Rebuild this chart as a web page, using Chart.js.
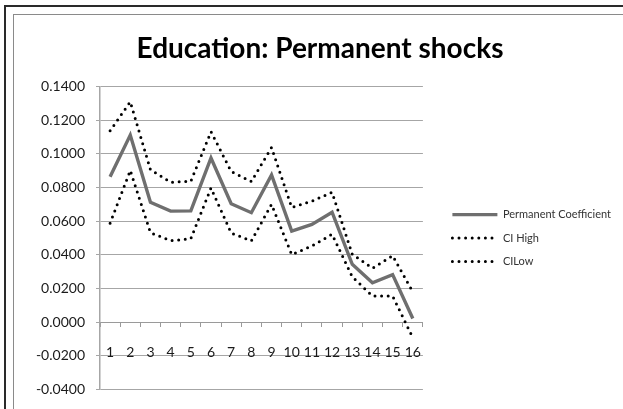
<!DOCTYPE html>
<html>
<head>
<meta charset="utf-8">
<script src="https://cdn.jsdelivr.net/npm/chart.js@4.4.1/dist/chart.umd.min.js"></script>
<style>
  body { margin: 0; background: #fff; }
  #marco { position: relative; width: 623px; height: 409px; overflow: hidden; }
  #borde1 { position: absolute; left: 4px; top: 5px; right: -10px; bottom: -10px; border-left: 2px solid #2a2a2a; border-top: 2px solid #2a2a2a; }
  #borde2 { position: absolute; left: 13px; top: 14px; right: -10px; bottom: -10px; border-left: 1px solid #8a8a8a; border-top: 1px solid #8a8a8a; }
  canvas { position: absolute; left: 0; top: 0; }
</style>
</head>
<body>
<div id="marco">
  <div id="borde1"></div>
  <div id="borde2"></div>
  <canvas id="myChart" width="623" height="409"></canvas>
</div>
<script>
// datos
let categorias = ["1", "2", "3", "4", "5", "6", "7", "8", "9", "10", "11", "12", "13", "14", "15", "16"];
let coefPermanente = [0.0865, 0.1112, 0.0713, 0.0660, 0.0662, 0.0976, 0.0704, 0.0651, 0.0875, 0.0542, 0.0581, 0.0654, 0.0344, 0.0235, 0.0283, 0.0022];
let ciHigh = [0.1137, 0.1310, 0.0906, 0.0832, 0.0837, 0.1132, 0.0896, 0.0836, 0.1038, 0.0682, 0.0719, 0.0772, 0.0404, 0.0321, 0.0396, 0.0180];
let ciLow = [0.0588, 0.0902, 0.0532, 0.0485, 0.0496, 0.0798, 0.0530, 0.0484, 0.0700, 0.0402, 0.0453, 0.0523, 0.0270, 0.0156, 0.0156, -0.0092];
let nombres = ["Permanent Coefficient", "CI High", "CILow"];
let yMin = -0.04, yMax = 0.14, yPaso = 0.02;

let canva = document.getElementById('myChart').getContext("2d");

// el titulo va centrado sobre todo el marco
const moverTitulo = {
  id: 'moverTitulo',
  afterLayout(chart) {
    chart.titleBlock.left = 17;
    chart.titleBlock.right = 623;
  }
};

const punteada = {
  fill: false,
  tension: 0,
  borderColor: "#000",
  borderWidth: 3,
  borderDash: [0, 6.6],
  borderCapStyle: "round",
  pointRadius: 0,
  pointStyle: "line"
};

// la leyenda usa el trazo de la serie (punteado incluido)
const etiquetasLeyenda = (chart) => {
  let items = Chart.defaults.plugins.legend.labels.generateLabels(chart);
  items.forEach((it) => {
    let ds = chart.data.datasets[it.datasetIndex];
    it.strokeStyle = ds.borderColor;
    it.lineWidth = ds.borderWidth;
    it.lineDash = ds.borderDash || [];
    it.lineCap = ds.borderCapStyle || "butt";
  });
  return items;
};

new Chart(canva, {
  type: "line",
  data: {
    labels: categorias,
    datasets: [
      {
        label: nombres[0],
        data: coefPermanente,
        fill: false,
        tension: 0,
        borderColor: "#6f6f6f",
        backgroundColor: "#6f6f6f",
        borderWidth: 3.4,
        borderJoinStyle: "miter",
        pointRadius: 0,
        pointStyle: "line"
      },
      Object.assign({ label: nombres[1], data: ciHigh }, punteada),
      Object.assign({ label: nombres[2], data: ciLow }, punteada)
    ]
  },
  options: {
    responsive: false,
    animation: false,
    layout: { padding: { left: 12, right: 2, top: 0, bottom: 18 } },
    font: { family: "Lato" },
    plugins: {
      title: {
        display: true,
        text: "Education: Permanent shocks",
        color: "#000",
        font: { family: "Lato", size: 28, weight: "bold" },
        padding: { top: 32, bottom: 21 }
      },
      legend: {
        position: "right",
        fullSize: false,
        maxWidth: 260,
        labels: {
          usePointStyle: true,
          pointStyleWidth: 45,
          boxHeight: 11,
          padding: 12.5,
          color: "#333",
          font: { family: "Lato", size: 11 },
          generateLabels: etiquetasLeyenda
        }
      },
      tooltip: { enabled: false }
    },
    scales: {
      x: {
        position: { y: 0 },
        offset: true,
        grid: { display: true, drawOnChartArea: false, drawTicks: true, tickLength: 4, offset: true, color: "#9a9a9a" },
        border: { color: "#9a9a9a", width: 1 },
        ticks: { color: "#1a1a1a", font: { family: "Lato", size: 14 }, padding: 18, maxRotation: 0, autoSkip: false }
      },
      y: {
        min: yMin,
        max: yMax,
        grid: { color: "#a6a6a6", tickLength: 4 },
        border: { color: "#a6a6a6", width: 1.5 },
        ticks: {
          stepSize: yPaso,
          color: "#1a1a1a",
          padding: 11,
          font: { family: "Lato", size: 14 },
          callback: (v) => Number(v).toFixed(4)
        },
        afterFit: (s) => { s.width = 88; }
      },
      y2: {
        position: "right",
        min: yMin,
        max: yMax,
        grid: { display: false },
        border: { display: false },
        ticks: { display: false },
        afterFit: (s) => { s.width = 17; }
      }
    }
  },
  plugins: [moverTitulo]
});
</script>
</body>
</html>
